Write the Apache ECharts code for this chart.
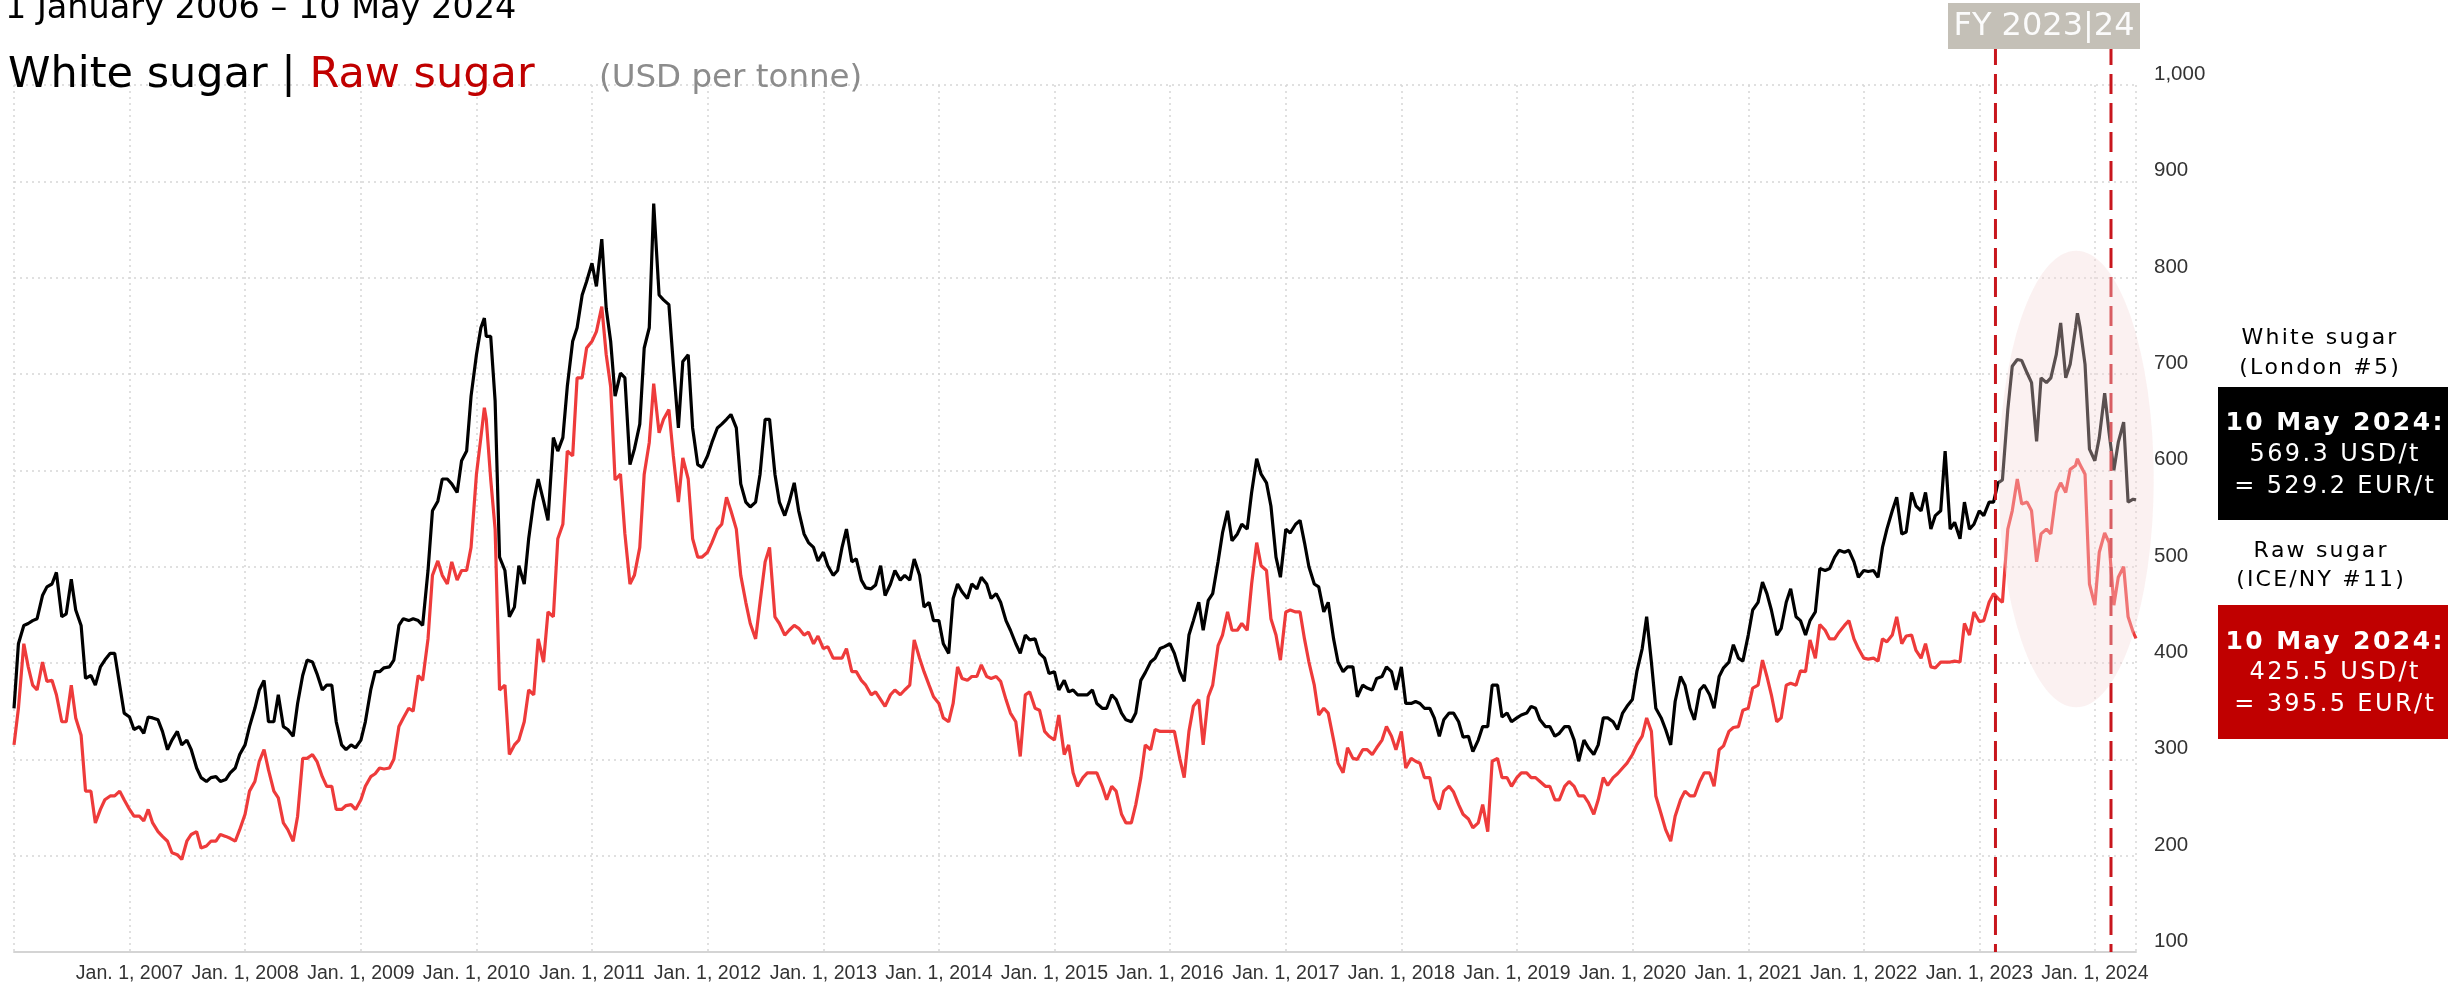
<!DOCTYPE html>
<html>
<head>
<meta charset="utf-8">
<title>White sugar | Raw sugar</title>
<script src="https://cdn.jsdelivr.net/npm/echarts@6/dist/echarts.min.js"></script>
<style>
  html, body { margin: 0; padding: 0; background: #fff; }
  #chart { width: 2448px; height: 985px; }
</style>
</head>
<body>
<div id="chart"></div>
<script>
// readings on the 1st of each month, Jan 2006 .. May 2024 (USD per tonne)
var firstYear = 2006;
var whiteSugar = [
  353,439,444,470,482,448,487,439,387,396,410,377,   // 2006
  344,334,344,341,310,329,320,291,277,282,279,291,   // 2007
  315,353,382,339,334,324,387,401,372,377,315,315,   // 2008
  320,372,391,396,439,444,444,496,568,591,577,620,   // 2009
  720,739,672,496,458,482,568,568,634,634,734,782,   // 2010
  815,840,734,701,606,648,748,782,772,644,720,606,   // 2011
  615,644,653,644,567,567,653,596,553,587,534,520,   // 2012
  515,491,520,505,486,477,501,482,486,486,491,463,   // 2013
  444,410,482,467,477,482,472,444,420,429,425,405,   // 2014
  391,382,372,367,372,353,367,348,339,382,401,415,   // 2015
  420,391,429,463,465,505,558,534,539,612,587,510,   // 2016
  539,544,525,482,453,425,391,396,377,372,386,391,   // 2017
  396,358,358,353,324,348,339,324,320,334,377,348,   // 2018
  343,348,353,334,324,334,320,320,305,343,339,348,   // 2019
  362,415,401,343,315,386,353,372,367,386,401,405,   // 2020
  429,463,472,429,463,448,429,453,496,510,515,505,   // 2021
  496,496,520,558,534,577,558,539,558,539,529,539,   // 2022
  558,567,587,663,715,701,630,691,720,696,748,710,   // 2023
  610,680,600,650,570                                // 2024
];
var rawSugar = [
  315,420,377,401,382,339,377,325,267,248,262,267,
  248,241,248,225,215,201,215,225,210,215,220,215,
  243,277,310,267,234,215,301,305,282,272,248,253,
  258,282,291,291,334,353,387,425,506,482,486,496,
  596,653,539,377,315,339,367,401,448,544,615,696,
  734,770,687,596,482,520,629,639,663,567,591,510,
  515,539,572,539,463,425,505,448,429,439,429,420,
  415,405,405,391,382,367,362,367,367,377,405,377,
  358,339,396,382,386,386,386,362,339,367,353,329,
  320,305,286,281,286,272,272,243,234,281,310,329,
  329,301,329,362,365,418,453,434,434,525,496,429,
  453,453,425,377,353,320,286,301,310,305,320,324,
  329,301,296,281,248,272,253,238,234,225,301,281,
  281,286,281,272,258,272,272,262,243,281,281,291,
  305,324,329,243,215,258,262,277,286,310,329,334,
  353,377,386,339,377,377,391,405,434,425,439,425,
  405,405,425,429,420,429,405,396,401,401,401,429,
  443,463,467,539,591,567,505,539,577,577,605,596,
  460,535,460,500,432
];

// readings on the 15th of each month, Jan 2006 .. Apr 2024
var whiteMid = [
  420,441,446,479,494,451,455,384,377,403,410,348,
  331,327,343,329,320,315,310,281,281,277,286,305,
  334,372,339,367,331,358,403,389,377,339,310,312,
  339,391,395,403,446,446,439,558,591,586,610,677,
  748,739,510,448,501,529,591,548,620,687,748,796,
  791,768,677,696,622,727,877,777,710,713,644,603,
  629,648,658,586,562,596,653,567,567,558,525,506,
  501,496,539,508,478,481,470,496,491,508,458,444,
  420,467,474,482,489,467,463,434,410,424,410,389,
  372,370,367,367,358,353,362,341,348,390,405,417,
  410,381,444,434,472,535,527,544,577,596,563,489,
  535,548,500,479,463,401,396,365,374,384,396,372,
  358,360,353,343,341,348,323,308,334,377,344,339,
  346,355,341,334,327,334,298,312,315,343,331,355,
  391,448,353,331,360,377,341,377,353,395,419,402,
  455,484,455,436,477,444,444,498,498,517,517,489,
  495,489,539,572,536,563,577,553,620,546,567,544,
  553,567,590,708,714,691,696,696,753,710,749,622,
  634,639,629,567
];
var rawMid = [
  353,396,372,381,367,339,343,267,234,258,262,258,
  241,236,234,220,203,196,222,208,215,222,218,227,
  267,298,289,260,227,241,301,298,272,248,252,248,
  272,285,290,300,343,350,382,491,491,505,496,520,
  634,591,372,305,320,372,425,453,529,620,696,727,
  744,720,590,534,491,596,690,653,615,613,529,510,
  525,544,558,491,441,463,520,441,434,436,432,428,
  417,405,415,391,377,370,355,372,372,424,391,365,
  343,358,384,386,398,384,381,348,303,370,351,324,
  346,315,272,286,286,258,267,234,253,315,331,329,
  329,281,355,315,377,429,434,441,482,501,446,403,
  455,453,401,346,348,296,312,300,310,312,334,310,
  291,298,281,258,267,266,243,229,253,298,281,272,
  286,281,277,272,258,277,262,255,258,273,285,296,
  315,343,262,227,241,267,262,286,272,314,333,351,
  374,403,367,343,379,392,424,440,425,432,444,415,
  404,402,422,448,428,413,420,395,401,402,441,453,
  444,472,463,558,565,558,534,534,587,601,606,482,
  515,525,489,448
];

// short peaks that fall between the readings above
var spikeDates = ['2010-01-26', '2023-11-07'];
var spikeWhite = [758, 763];
var spikeRaw   = [665, 612];

var lastDate = '2024-05-10';
var latestUsd = [569.3, 425.5];   // white, raw
var latestEur = [529.2, 395.5];

var fyLines = ['2023-02-21', '2024-02-21'];
var fyLabel = 'FY 2023|24';
var highlightDates = ['2023-03-03', '2024-07-05'];
var highlightValues = [354, 828];

function toTime(s) {
  var p = s.split('-');
  return new Date(+p[0], +p[1] - 1, +p[2]).getTime();
}
function spaced(s) {
  return s.split('').join('\u200A');
}

var whitePts = [], rawPts = [];
for (var i = 0; i < whiteSugar.length; i++) {
  var t = new Date(firstYear, i, 1).getTime();
  whitePts.push([t, whiteSugar[i]]);
  rawPts.push([t, rawSugar[i]]);
}
for (var k = 0; k < whiteMid.length; k++) {
  var tm = new Date(firstYear, k, 15).getTime();
  whitePts.push([tm, whiteMid[k]]);
  rawPts.push([tm, rawMid[k]]);
}
for (var j = 0; j < spikeDates.length; j++) {
  whitePts.push([toTime(spikeDates[j]), spikeWhite[j]]);
  rawPts.push([toTime(spikeDates[j]), spikeRaw[j]]);
}
whitePts.push([toTime(lastDate), latestUsd[0]]);
rawPts.push([toTime(lastDate), latestUsd[1]]);
whitePts.sort(function (a, b) { return a[0] - b[0]; });
rawPts.sort(function (a, b) { return a[0] - b[0]; });

var YEAR = 365 * 24 * 3600 * 1000;
var FONT = '"DejaVu Sans", Verdana, sans-serif';
var AXISFONT = '"Liberation Sans", Arial, sans-serif';

function txt(x, y, text, font, color, align) {
  return {
    type: 'text', x: x, y: y, z: 100, silent: true,
    style: { text: text, font: font, fill: color, textAlign: align || 'left', textVerticalAlign: 'middle' }
  };
}

var chart = echarts.init(document.getElementById('chart'));
chart.setOption({
  animation: false,
  backgroundColor: '#fff',
  grid: { left: 14, right: 312, top: 85, bottom: 33, containLabel: false, outerBoundsMode: 'none' },
  xAxis: {
    type: 'time',
    min: toTime('2006-01-01'),
    max: toTime(lastDate),
    minInterval: YEAR,
    maxInterval: YEAR,
    axisLine: { lineStyle: { color: '#d4d4d4', width: 2 } },
    axisTick: { show: false },
    axisLabel: {
      color: '#333', fontFamily: AXISFONT, fontSize: 19.5, margin: 12,
      showMinLabel: false,
      formatter: function (v) {
        var d = new Date(v);
        if (d.getFullYear() <= firstYear) return '';
        return 'Jan. 1, ' + d.getFullYear();
      }
    },
    splitLine: { show: true, showMinLine: false, lineStyle: { color: '#d6d6d6', type: [2, 4], width: 1.5 } }
  },
  yAxis: {
    type: 'value',
    position: 'right',
    min: 100, max: 1000, interval: 100,
    axisLine: { show: false },
    axisTick: { show: false },
    axisLabel: {
      color: '#333', fontFamily: AXISFONT, fontSize: 20.5, margin: 18, verticalAlign: 'bottom',
      formatter: function (v) { return v.toLocaleString('en-US'); }
    },
    splitLine: { lineStyle: { color: '#d6d6d6', type: [2, 4], width: 1.5 } }
  },
  series: [
    {
      name: 'White sugar', type: 'line', data: whitePts, showSymbol: false, z: 2,
      lineStyle: { color: '#000', width: 3.2 }, itemStyle: { color: '#000' }
    },
    {
      name: 'Raw sugar', type: 'line', data: rawPts, showSymbol: false, z: 2,
      lineStyle: { color: '#ee3b3b', width: 3.2 }, itemStyle: { color: '#ee3b3b' }
    },
    {
      // fiscal year markers
      type: 'custom', z: 3, silent: true,
      data: fyLines.map(function (d) { return [toTime(d), 1000]; }),
      renderItem: function (params, api) {
        var bottom = api.coord([api.value(0), 100]);
        var top = api.coord([api.value(0), 1000]);
        return {
          type: 'line',
          shape: { x1: bottom[0], y1: top[1] - 40, x2: bottom[0], y2: bottom[1] },
          style: { stroke: '#c8161d', lineWidth: 3, lineDash: [20, 9] }
        };
      }
    },
    {
      // highlighted current fiscal year
      type: 'custom', z: 4, silent: true,
      data: [[toTime(highlightDates[0]), highlightValues[0]]],
      renderItem: function (params, api) {
        var a = api.coord([toTime(highlightDates[0]), highlightValues[0]]);
        var b = api.coord([toTime(highlightDates[1]), highlightValues[1]]);
        var cx = (a[0] + b[0]) / 2, cy = (a[1] + b[1]) / 2;
        var rx = Math.abs(b[0] - a[0]) / 2, ry = Math.abs(b[1] - a[1]) / 2;
        return {
          type: 'circle', x: cx, y: cy, scaleX: 1, scaleY: ry / rx,
          shape: { cx: 0, cy: 0, r: rx },
          style: { fill: 'rgba(243,216,216,0.37)' }
        };
      }
    }
  ],
  graphic: {
    elements: [
      txt(5, 9, '1 January 2006 \u2013 10 May 2024', '33.5px ' + FONT, '#000'),
      {
        type: 'text', x: 8, y: 75.5, z: 100, silent: true,
        style: {
          text: '{b|White sugar | }{r|Raw sugar}',
          textVerticalAlign: 'middle',
          rich: {
            b: { fill: '#000', fontSize: 43, fontFamily: FONT },
            r: { fill: '#c00000', fontSize: 43, fontFamily: FONT }
          }
        }
      },
      txt(599, 79, '(USD per tonne)', '32.5px ' + FONT, '#8c8c8c'),

      { type: 'rect', z: 99, silent: true, shape: { x: 1948, y: 3, width: 192, height: 46 }, style: { fill: '#c4c0b7' } },
      txt(2044, 27, fyLabel, '32px ' + FONT, '#fbfbfb', 'center'),

      txt(2319, 338, spaced('White sugar'), '22px ' + FONT, '#000', 'center'),
      txt(2319, 368, spaced('(London #5)'), '22px ' + FONT, '#000', 'center'),
      { type: 'rect', z: 99, silent: true, shape: { x: 2218, y: 387, width: 230, height: 133 }, style: { fill: '#000' } },
      txt(2334, 423, spaced('10 May 2024:'), 'bold 25px ' + FONT, '#fff', 'center'),
      txt(2334, 455, spaced(latestUsd[0].toFixed(1) + ' USD/t'), '24px ' + FONT, '#fff', 'center'),
      txt(2334, 487, spaced('= ' + latestEur[0].toFixed(1) + ' EUR/t'), '24px ' + FONT, '#fff', 'center'),

      txt(2320, 551, spaced('Raw sugar'), '22px ' + FONT, '#000', 'center'),
      txt(2320, 580, spaced('(ICE/NY #11)'), '22px ' + FONT, '#000', 'center'),
      { type: 'rect', z: 99, silent: true, shape: { x: 2218, y: 605, width: 230, height: 134 }, style: { fill: '#c00000' } },
      txt(2334, 642, spaced('10 May 2024:'), 'bold 25px ' + FONT, '#fff', 'center'),
      txt(2334, 673, spaced(latestUsd[1].toFixed(1) + ' USD/t'), '24px ' + FONT, '#fff', 'center'),
      txt(2334, 705, spaced('= ' + latestEur[1].toFixed(1) + ' EUR/t'), '24px ' + FONT, '#fff', 'center')
    ]
  }
});
</script>
</body>
</html>
